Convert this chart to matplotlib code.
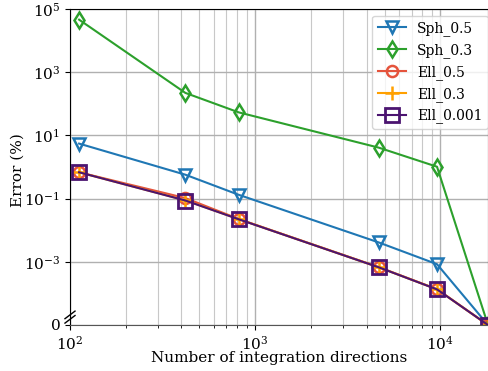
import numpy as np
import matplotlib.pyplot as plt
from matplotlib.ticker import FixedLocator, LogLocator, NullFormatter

plt.rcParams['font.family'] = ['DejaVu Serif']
plt.rcParams['mathtext.fontset'] = 'dejavuserif'

# data; 1e-5 stands for the "0" row at the bottom
n_dirs = [112, 420, 815, 4650, 9600, 18100]
sph_05 = [5.5, 0.57, 0.132, 0.0041, 8.4e-4, 1e-5]
sph_03 = [46000, 221, 53.6, 4.1, 1.02, 1e-5]
ell_05 = [0.68, 0.104, 0.0226, 6.8e-4, 1.36e-4, 1e-5]
ell_03 = [0.68, 0.088, 0.0224, 6.7e-4, 1.35e-4, 1e-5]
ell_0001 = [0.68, 0.087, 0.0222, 6.7e-4, 1.34e-4, 1e-5]

y_ticks = [1e5, 1e3, 1e1, 1e-1, 1e-3, 1e-5]
y_labels = ['$10^{5}$', '$10^{3}$', '$10^{1}$', '$10^{-1}$', '$10^{-3}$', '0']

fig = plt.figure(figsize=(4.89, 3.71), dpi=100)
ax = fig.add_axes([70/489, 46/371, 418/489, 316/371])

ax.plot(n_dirs, sph_05, '-v', color='#1f77b4', mfc='none', ms=8, mew=1.8, label='Sph_0.5')
ax.plot(n_dirs, sph_03, '-d', color='#2ca02c', mfc='none', ms=8, mew=1.8, label='Sph_0.3')
ax.plot(n_dirs, ell_05, '-o', color='#e5533c', mfc='none', ms=8, mew=1.8, label='Ell_0.5')
ax.plot(n_dirs, ell_03, '-+', color='#ffa000', ms=10, mew=1.8, label='Ell_0.3')
ax.plot(n_dirs, ell_0001, '-s', color='#4b1470', mfc='none', ms=10, mew=2, label='Ell_0.001')

ax.set_xscale('log')
ax.set_yscale('log')
ax.set_xlim(100, 18100)
ax.set_ylim(1e-5, 1e5)
ax.yaxis.set_major_locator(FixedLocator(y_ticks))
ax.set_yticklabels(y_labels)
ax.yaxis.set_minor_locator(FixedLocator([]))
ax.xaxis.set_minor_locator(LogLocator(base=10, subs=np.arange(2, 10)))
ax.xaxis.set_minor_formatter(NullFormatter())

ax.grid(True, which='major', color='#b0b0b0', lw=1)
ax.grid(True, which='minor', axis='x', color='#c8c8c8', lw=0.8)
ax.tick_params(labelsize=11)
ax.spines['bottom'].set_color('#555555')

# break marks on the y axis
for dy in (0.018, 0.032):
    ax.plot([-0.012, 0.012], [dy - 0.012, dy + 0.012], transform=ax.transAxes,
            color='k', lw=1, clip_on=False)

ax.set_xlabel('Number of integration directions', fontsize=11, labelpad=-1)
ax.set_ylabel('Error (%)', fontsize=11)
ax.yaxis.set_label_coords(-0.108, 0.49)
ax.legend(loc='upper right', fontsize=10, borderaxespad=0,
          bbox_to_anchor=(1.0, 0.979))

fig.savefig('out.png', dpi=100)
